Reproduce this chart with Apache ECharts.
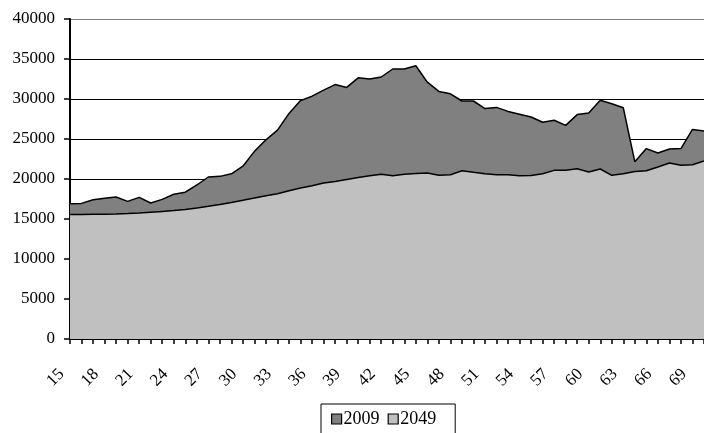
<!DOCTYPE html>
<html>
<head>
<meta charset="utf-8">
<script src="https://cdn.jsdelivr.net/npm/echarts@6/dist/echarts.min.js"></script>
<style>
  html, body { margin: 0; padding: 0; background: #fff; }
  #chart { width: 704px; height: 433px; }
</style>
</head>
<body>
<div id="chart"></div>
<script>
// Ages 15..70
var ages = [];
for (var a = 15; a <= 70; a++) ages.push(String(a));

var values2009 = [
  16900, 16950, 17400, 17600, 17750, 17200, 17700, 17000, 17450, 18100,
  18350, 19250, 20250, 20330, 20650, 21600, 23450, 24900, 26100, 28200,
  29800, 30350, 31100, 31800, 31450, 32650, 32500, 32750, 33750, 33750,
  34150, 32100, 30950, 30650, 29750, 29750, 28800, 28950, 28450, 28100,
  27750, 27100, 27350, 26700, 28050, 28250, 29850, 29400, 28900, 22150,
  23800, 23250, 23750, 23800, 26200, 26000
];

var values2049 = [
  15550, 15570, 15590, 15600, 15620, 15680, 15750, 15850, 15950, 16050,
  16200, 16380, 16580, 16800, 17050, 17330, 17620, 17910, 18160, 18540,
  18870, 19160, 19500, 19700, 19950, 20200, 20410, 20580, 20410, 20580,
  20700, 20750, 20460, 20540, 21040, 20830, 20660, 20540, 20540, 20410,
  20450, 20660, 21080, 21080, 21290, 20870, 21250, 20460, 20660, 20950,
  21040, 21500, 22000, 21710, 21790, 22250
];

var seriesNames = ['2009', '2049'];
var yTicks = { min: 0, max: 40000, interval: 5000 };

var font = "'Liberation Serif', 'Times New Roman', Times, serif";
var chart = echarts.init(document.getElementById('chart'), null, { renderer: 'canvas' });

chart.setOption({
  animation: false,
  backgroundColor: '#ffffff',
  grid: { left: 70, top: 19, width: 636.5, height: 320, containLabel: false },
  legend: {
    data: seriesNames,
    left: 321,
    top: 404,
    icon: 'rect',
    itemWidth: 10,
    itemHeight: 10,
    itemGap: 8,
    padding: [6, 19, 8, 10],
    borderColor: '#000',
    borderWidth: 1,
    textStyle: { fontFamily: font, fontSize: 18, color: '#000', padding: [0, 0, 0, -3] },
    itemStyle: { borderColor: '#000', borderWidth: 1.2 }
  },
  xAxis: {
    type: 'category',
    data: ages,
    boundaryGap: false,
    axisLine: { lineStyle: { color: '#000', width: 2 } },
    axisTick: { show: true, interval: 0, length: 5, lineStyle: { color: '#000', width: 1.5 } },
    axisLabel: {
      interval: 2,
      rotate: 45,
      margin: 24,
      padding: [0, 12, 0, 0],
      fontFamily: font,
      fontSize: 17,
      color: '#000'
    },
    splitLine: { show: false }
  },
  yAxis: {
    type: 'value',
    min: yTicks.min,
    max: yTicks.max,
    interval: yTicks.interval,
    axisLine: { show: true, lineStyle: { color: '#000', width: 2 } },
    axisTick: { show: true, length: 6, lineStyle: { color: '#000', width: 1.5 } },
    axisLabel: {
      margin: 15,
      fontFamily: font,
      fontSize: 17,
      color: '#000',
      formatter: function (v) { return String(v); }
    },
    splitLine: {
      show: true,
      lineStyle: {
        color: ['#000', '#000', '#000', '#000', '#000', '#000', '#000', '#000', '#808080'],
        width: 1.2
      }
    }
  },
  series: [
    {
      name: '2009',
      type: 'line',
      data: values2009,
      symbol: 'none',
      itemStyle: { color: '#808080' },
      lineStyle: { color: '#000', width: 1.5 },
      areaStyle: { color: '#808080', opacity: 1 }
    },
    {
      name: '2049',
      type: 'line',
      data: values2049,
      symbol: 'none',
      itemStyle: { color: '#c0c0c0' },
      lineStyle: { color: '#000', width: 1.5 },
      areaStyle: { color: '#c0c0c0', opacity: 1 }
    }
  ]
});
</script>
</body>
</html>
